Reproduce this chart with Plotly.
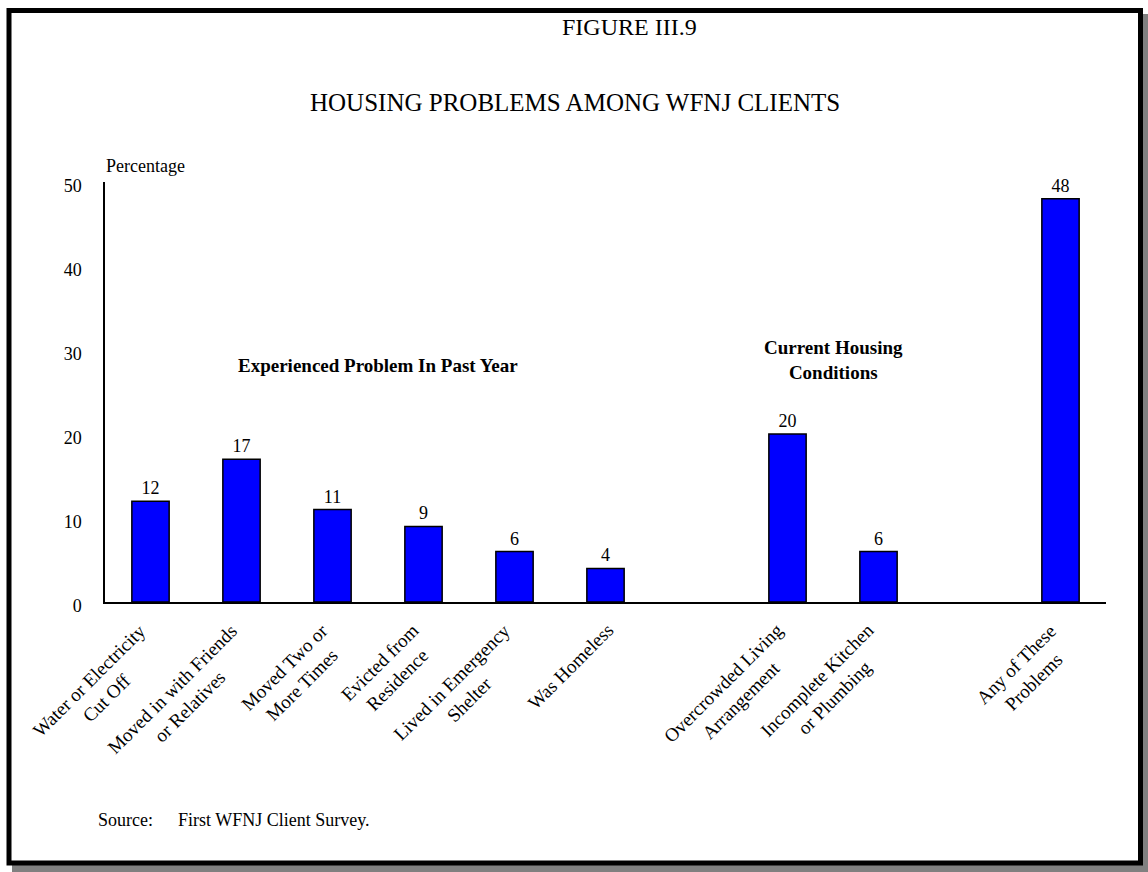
import plotly.graph_objects as go

# ---- data -------------------------------------------------------------
categories = [
    "Water or Electricity<br>Cut Off",
    "Moved in with Friends<br>or Relatives",
    "Moved Two or<br>More Times",
    "Evicted from<br>Residence",
    "Lived in Emergency<br>Shelter",
    "Was Homeless",
    "Overcrowded Living<br>Arrangement",
    "Incomplete Kitchen<br>or Plumbing",
    "Any of These<br>Problems",
]
groups = ["past"] * 6 + ["current"] * 2 + ["any"]
values = [12, 17, 11, 9, 6, 4, 20, 6, 48]
group_headings = {
    "past": "<b>Experienced Problem In Past Year</b>",
    "current": "<b>Current Housing<br>Conditions</b>",
}
y_ticks = [0, 10, 20, 30, 40, 50]

title_line1 = "FIGURE III.9"
title_line2 = "HOUSING PROBLEMS AMONG WFNJ CLIENTS"
y_title = "Percentage"
source_label = "Source:"
source_text = "First WFNJ Client Survey."

# ---- layout constants --------------------------------------------------
W, H = 1148, 872
ML, MR, MT, MB = 105, 42, 182, 270
PW, PH = W - ML - MR, H - MT - MB
FONT = "Liberation Serif, Times New Roman, serif"


def px_x(px):
    return (px - ML) / PW


def px_y(py):
    return (H - MB - py) / PH


# slot positions: one empty slot between consecutive groups
positions = []
slot = 0
for i, g in enumerate(groups):
    if i > 0 and g != groups[i - 1]:
        slot += 1
    positions.append(slot)
    slot += 1

fig = go.Figure()
fig.add_trace(go.Bar(
    x=positions,
    y=values,
    width=0.41,
    marker=dict(color="#0000FF", line=dict(color="black", width=1.5)),
    text=[str(v) for v in values],
    textposition="outside",
    textfont=dict(family=FONT, size=18, color="black"),
    cliponaxis=False,
    hoverinfo="skip",
))

annotations = []

# rotated category labels under the axis
for pos, label in zip(positions, categories):
    nlines = label.count("<br>") + 1
    annotations.append(dict(
        x=pos, y=0, xref="x", yref="y",
        text=label, showarrow=False, textangle=-45, align="center",
        xanchor="right", yanchor="top",
        xshift=15 + 5 * (nlines - 1), yshift=-15,
        font=dict(family=FONT, size=19, color="black"),
    ))

# group headings centred over their bars
heading_y = {"past": 28.1, "current": 28.8}
for g, txt in group_headings.items():
    xs = [p for p, gg in zip(positions, groups) if gg == g]
    annotations.append(dict(
        x=sum(xs) / len(xs), y=heading_y[g], xref="x", yref="y",
        text=txt, showarrow=False, align="center",
        xanchor="center", yanchor="middle",
        font=dict(family=FONT, size=19, color="black"),
    ))

# titles, axis caption and source note
annotations += [
    dict(x=px_x(629), y=px_y(27), xref="paper", yref="paper", text=title_line1,
         showarrow=False, xanchor="center", yanchor="middle",
         font=dict(family=FONT, size=24, color="black")),
    dict(x=px_x(574.5), y=px_y(102), xref="paper", yref="paper", text=title_line2,
         showarrow=False, xanchor="center", yanchor="middle",
         font=dict(family=FONT, size=25, color="black")),
    dict(x=px_x(104), y=px_y(166), xref="paper", yref="paper", text=y_title,
         showarrow=False, xanchor="left", yanchor="middle",
         font=dict(family=FONT, size=18, color="black")),
    dict(x=px_x(96), y=px_y(820), xref="paper", yref="paper", text=source_label,
         showarrow=False, xanchor="left", yanchor="middle",
         font=dict(family=FONT, size=18, color="black")),
    dict(x=px_x(176), y=px_y(820), xref="paper", yref="paper", text=source_text,
         showarrow=False, xanchor="left", yanchor="middle",
         font=dict(family=FONT, size=18, color="black")),
]

# page frame with drop shadow
shapes = [
    dict(type="rect", xref="paper", yref="paper", layer="below",
         x0=px_x(12), x1=px_x(1148), y0=px_y(14), y1=px_y(872),
         fillcolor="#808080", line=dict(width=0)),
    dict(type="rect", xref="paper", yref="paper", layer="below",
         x0=px_x(9), x1=px_x(1140.5), y0=px_y(10.5), y1=px_y(863),
         fillcolor="white", line=dict(color="black", width=5)),
]

fig.update_layout(
    width=W, height=H,
    margin=dict(l=ML, r=MR, t=MT, b=MB, pad=0),
    paper_bgcolor="white",
    plot_bgcolor="rgba(0,0,0,0)",
    showlegend=False,
    font=dict(family=FONT, size=18, color="black"),
    xaxis=dict(
        range=[-0.5, slot - 0.5],
        showticklabels=False, ticks="", showgrid=False, zeroline=False,
        showline=True, linecolor="black", linewidth=1.5,
        fixedrange=True,
    ),
    yaxis=dict(
        range=[0, 50], tickvals=y_ticks,
        ticks="", ticklabelstandoff=18, ticklabelshift=4,
        showgrid=False, zeroline=False,
        showline=True, linecolor="black", linewidth=1.5,
        tickfont=dict(family=FONT, size=18, color="black"),
        fixedrange=True,
    ),
    annotations=annotations,
    shapes=shapes,
)

fig.write_html("out.html", config={"displayModeBar": False})
